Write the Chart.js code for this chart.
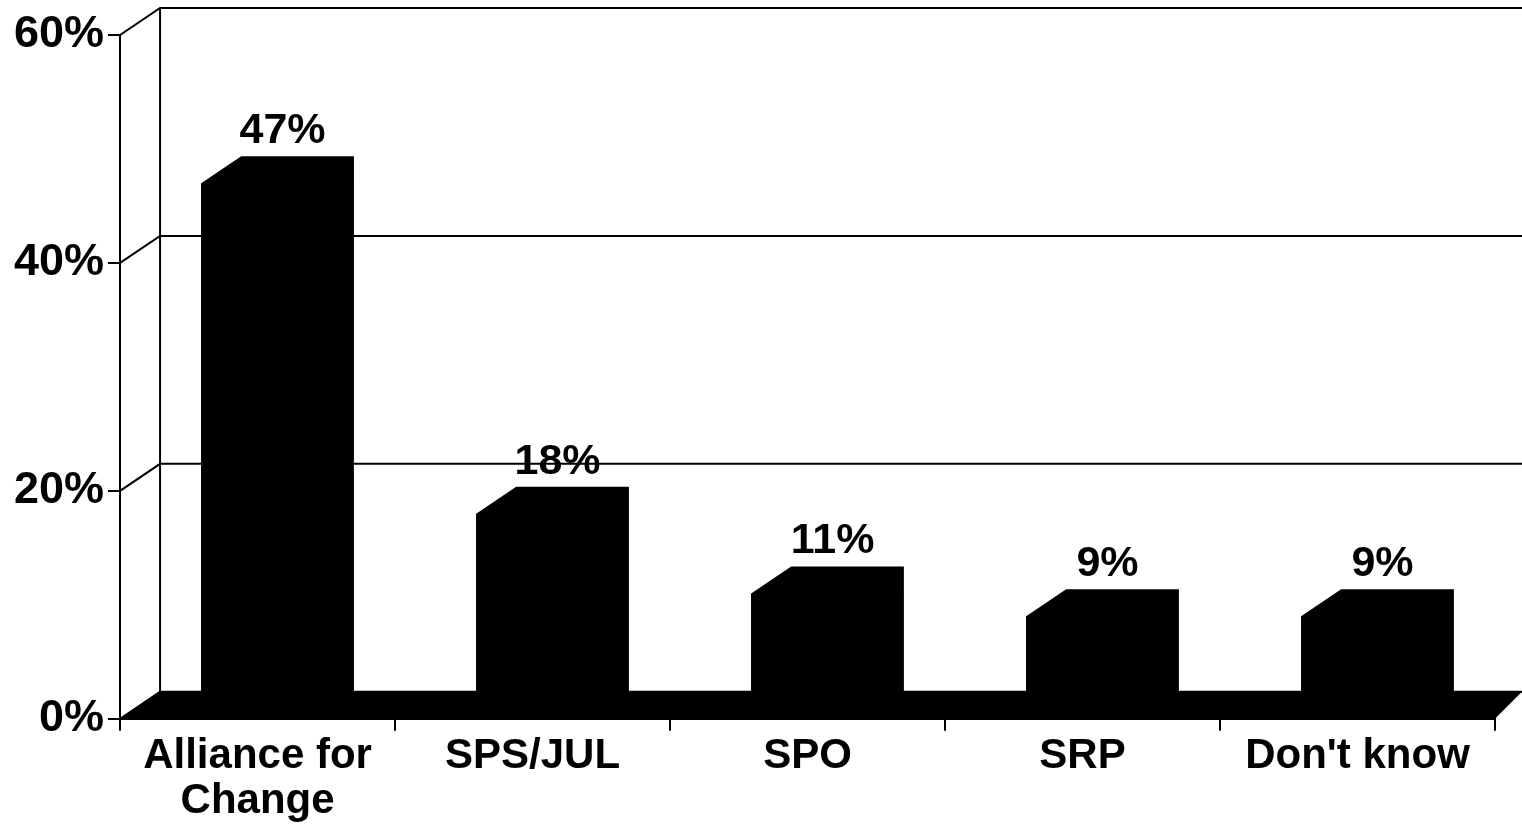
<!DOCTYPE html>
<html>
<head>
<meta charset="utf-8">
<script src="https://cdn.jsdelivr.net/npm/chart.js@4/dist/chart.umd.min.js"></script>
<style>
  html, body { margin: 0; padding: 0; background: #fff; }
  #wrap { width: 1522px; height: 824px; }
</style>
</head>
<body>
<div id="wrap"><canvas id="partyChart"></canvas></div>
<script>
// Chart data
const categories = [['Alliance for', 'Change'], 'SPS/JUL', 'SPO', 'SRP', "Don't know"];
const shares = [47, 18, 11, 9, 9];
const yTicks = [0, 20, 40, 60];

const FONT = '"Liberation Sans", Arial, sans-serif';
// 3D depth of the bars / back wall
const DEPTH_X = 40;
const DEPTH_Y = 27;

// Function back wall, floor and bar extrusion (fake 3D)
const depth3d = {
    id: 'depth3d',
    beforeDatasetsDraw(chart) {
        const { ctx, chartArea: area, scales: { y } } = chart;
        ctx.save();
        ctx.strokeStyle = '#000';
        ctx.lineWidth = 2;
        // gridlines on the back wall
        yTicks.forEach(v => {
            const py = y.getPixelForValue(v);
            ctx.beginPath();
            ctx.moveTo(area.left, py);
            ctx.lineTo(area.left + DEPTH_X, py - DEPTH_Y);
            ctx.lineTo(chart.width, py - DEPTH_Y);
            ctx.stroke();
        });
        // left wall edge
        ctx.beginPath();
        ctx.moveTo(area.left + DEPTH_X, area.top - DEPTH_Y);
        ctx.lineTo(area.left + DEPTH_X, area.bottom - DEPTH_Y);
        ctx.stroke();
        // floor
        ctx.fillStyle = '#000';
        ctx.beginPath();
        ctx.moveTo(area.left, area.bottom);
        ctx.lineTo(area.left + DEPTH_X, area.bottom - DEPTH_Y);
        ctx.lineTo(chart.width, area.bottom - DEPTH_Y);
        ctx.lineTo(area.right, area.bottom);
        ctx.closePath();
        ctx.fill();
        // bar extrusions
        chart.getDatasetMeta(0).data.forEach(bar => {
            const l = bar.x - bar.width / 2;
            const r = bar.x + bar.width / 2;
            ctx.beginPath();
            ctx.moveTo(l, bar.y);
            ctx.lineTo(l + DEPTH_X, bar.y - DEPTH_Y);
            ctx.lineTo(r + DEPTH_X, bar.y - DEPTH_Y);
            ctx.lineTo(r + DEPTH_X, bar.base - DEPTH_Y);
            ctx.lineTo(r, bar.base);
            ctx.lineTo(l, bar.base);
            ctx.closePath();
            ctx.fill();
        });
        ctx.restore();
    },
    afterDatasetsDraw(chart) {
        // value labels above bars
        const ctx = chart.ctx;
        ctx.save();
        ctx.font = 'bold 43px ' + FONT;
        ctx.fillStyle = '#000';
        ctx.textAlign = 'center';
        ctx.textBaseline = 'middle';
        chart.getDatasetMeta(0).data.forEach((bar, i) => {
            ctx.fillText(shares[i] + '%', bar.x + DEPTH_X / 2 + 5, bar.y - DEPTH_Y - 25);
        });
        ctx.restore();
    }
};

const ctx = document.getElementById('partyChart').getContext('2d');
const partyChart = new Chart(ctx, {
    type: 'bar',
    data: {
        labels: categories,
        datasets: [{
            data: shares,
            backgroundColor: '#000',
            borderWidth: 0,
            categoryPercentage: 1,
            barPercentage: 0.41
        }]
    },
    options: {
        responsive: true,
        maintainAspectRatio: false,
        animation: false,
        layout: { padding: { top: 35, right: 27, left: 10, bottom: -3 } },
        plugins: {
            legend: { display: false },
            tooltip: { enabled: false }
        },
        scales: {
            y: {
                min: 0,
                max: 60,
                afterBuildTicks(axis) {
                    axis.ticks = yTicks.map(v => ({ value: v }));
                },
                ticks: {
                    callback: v => v + '%',
                    color: '#000',
                    font: { family: FONT, size: 45, weight: 'bold' },
                    padding: 4
                },
                grid: { drawOnChartArea: false, color: '#000', lineWidth: 2, tickLength: 12 },
                border: { color: '#000', width: 2 }
            },
            x: {
                ticks: {
                    color: '#000',
                    font: { family: FONT, size: 42, weight: 'bold', lineHeight: 1.05 },
                    padding: 4,
                    maxRotation: 0
                },
                grid: { drawOnChartArea: false, color: '#000', lineWidth: 2, tickLength: 12 },
                border: { color: '#000', width: 2 }
            }
        }
    },
    plugins: [depth3d]
});
</script>
</body>
</html>
